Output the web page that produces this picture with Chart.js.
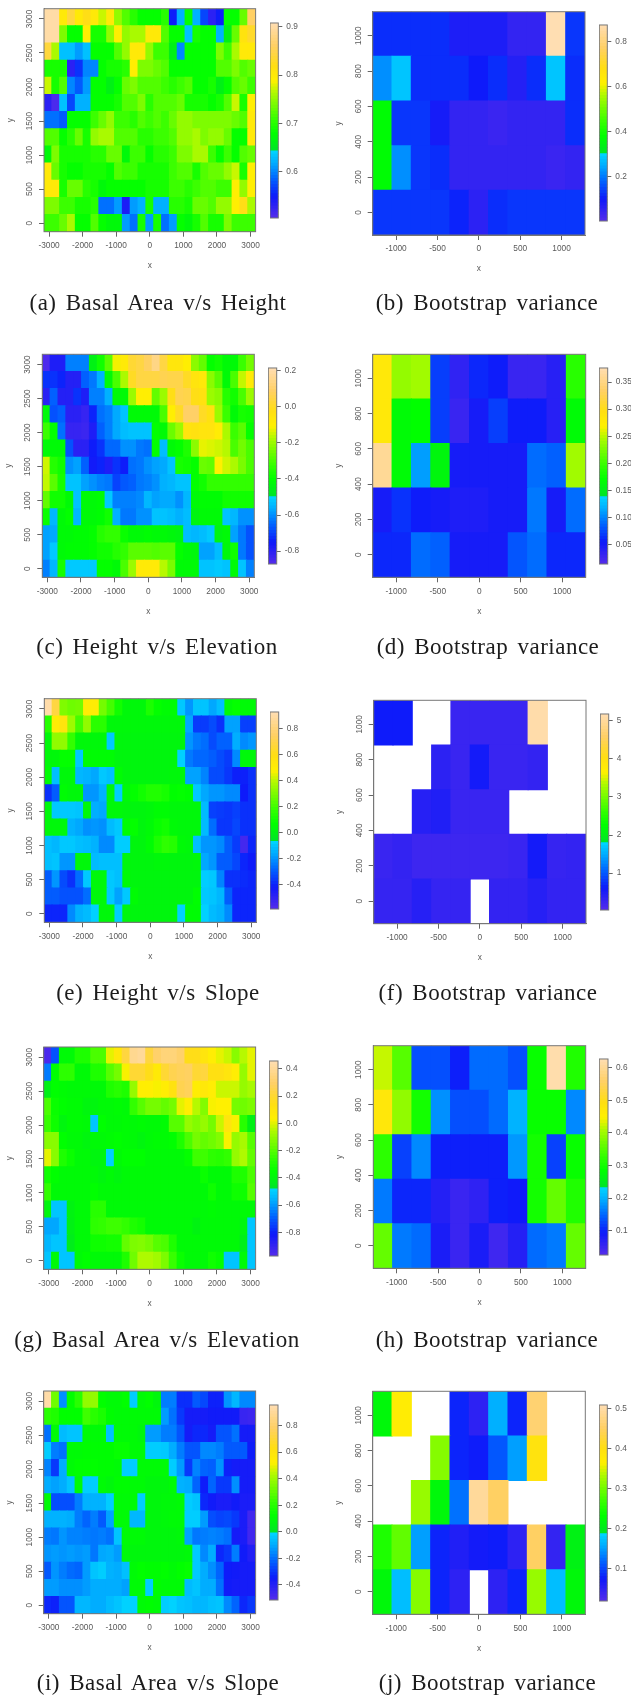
<!DOCTYPE html>
<html>
<head>
<meta charset="utf-8">
<title>Local correlation maps</title>
<script src="https://cdn.jsdelivr.net/npm/chart.js@4"></script>
<style>
    html, body { margin: 0; padding: 0; background: #fff; }
    #page { position: relative; width: 631px; height: 1696px; overflow: hidden; }
    canvas { position: absolute; filter: blur(0.6px); }
    .caption {
        position: absolute; width: 340px; text-align: center; line-height: 24px; height: 24px;
        font-family: 'Liberation Serif', serif; font-size: 23px; letter-spacing: 0.5px;
        color: #1c1c1c; word-spacing: 3px; filter: blur(0.3px); white-space: nowrap;
    }
</style>
</head>
<body>
<div id="page"></div>
<script>
// Axis ticks
var xTicksWide = [-3000, -2000, -1000, 0, 1000, 2000, 3000];
var yTicksWide = [0, 500, 1000, 1500, 2000, 2500, 3000];
var xTicksNarrow = [-1000, -500, 0, 500, 1000];
var yTicksNarrow = [0, 200, 400, 600, 800, 1000];

// Cell values, top row first. null = no data (white)
var aRows = [
    [.90,.90,.80,.84,.80,.82,.80,.77,.80,.75,.72,.70,.68,.68,.68,.70,.55,.62,.68,.62,.57,.53,.55,.68,.68,.73,.86],
    [.90,.90,.74,.68,.68,.79,.69,.69,.75,.79,.75,.76,.76,.80,.80,.72,.68,.68,.63,.69,.68,.68,.62,.66,.73,.81,.83],
    [.84,.76,.63,.63,.61,.63,.68,.68,.68,.72,.75,.80,.80,.75,.71,.71,.66,.60,.68,.68,.68,.68,.74,.71,.76,.80,.80],
    [.69,.69,.69,.53,.56,.60,.60,.68,.69,.69,.70,.79,.74,.74,.73,.72,.68,.68,.68,.68,.68,.68,.72,.72,.74,.72,.73],
    [.77,.69,.72,.60,.58,.61,.68,.68,.66,.68,.73,.74,.72,.72,.72,.71,.70,.71,.72,.68,.68,.69,.66,.68,.72,.73,.71],
    [.53,.51,.63,.57,.62,.62,.68,.68,.68,.69,.72,.72,.74,.70,.72,.72,.72,.73,.69,.69,.69,.68,.69,.72,.77,.69,.79],
    [.59,.59,.58,.68,.68,.68,.71,.73,.75,.71,.71,.70,.72,.71,.72,.71,.73,.75,.75,.74,.74,.74,.74,.74,.73,.72,.80],
    [.72,.72,.68,.70,.73,.69,.75,.76,.76,.72,.72,.72,.70,.70,.71,.71,.72,.75,.75,.76,.74,.75,.75,.73,.68,.68,.80],
    [.67,.74,.69,.69,.69,.69,.70,.70,.73,.73,.67,.71,.71,.68,.70,.70,.71,.74,.74,.76,.76,.71,.68,.71,.68,.72,.73],
    [.80,.73,.69,.68,.68,.69,.69,.69,.68,.72,.71,.71,.69,.69,.69,.69,.71,.72,.72,.69,.72,.73,.73,.75,.77,.69,.79],
    [.80,.80,.69,.73,.73,.70,.69,.67,.68,.68,.68,.68,.68,.69,.69,.69,.71,.71,.70,.71,.72,.72,.71,.71,.79,.75,.79],
    [.74,.74,.71,.71,.69,.69,.70,.59,.59,.61,.54,.61,.62,.69,.62,.62,.70,.70,.69,.73,.73,.72,.75,.75,.79,.82,.76],
    [.71,.71,.73,.76,.68,.68,.72,.68,.67,.67,.61,.59,.69,.61,.69,.59,.61,.68,.67,.69,.72,.69,.69,.74,.71,.71,.71]
];
var cRows = [
    [-.86,-.78,-.78,-.62,-.62,-.62,-.45,-.38,-.28,-.12,-.08,.02,.04,.08,.14,.04,-.06,-.06,-.10,-.22,-.27,-.40,-.38,-.42,-.42,-.32,-.25],
    [-.72,-.72,-.74,-.79,-.79,-.66,-.63,-.56,-.42,-.30,-.18,.00,.04,.04,.04,.06,.05,.05,.00,-.05,-.07,-.22,-.28,-.42,-.30,-.16,-.08],
    [-.80,-.66,-.79,-.79,-.72,-.78,-.62,-.62,-.56,-.42,-.42,-.20,-.10,-.10,-.27,-.20,-.02,.06,.05,-.02,-.04,-.20,-.22,-.35,-.38,-.30,-.20],
    [-.42,-.68,-.66,-.80,-.80,-.82,-.74,-.64,-.62,-.57,-.53,-.42,-.42,-.42,-.42,-.30,-.10,.00,.09,.09,.00,-.04,-.20,-.32,-.42,-.37,-.38],
    [-.32,-.40,-.64,-.82,-.82,-.83,-.78,-.66,-.62,-.57,-.54,-.53,-.53,-.53,-.40,-.42,-.26,-.20,-.05,-.04,-.05,-.05,-.09,-.18,-.32,-.28,-.40],
    [-.42,-.42,-.42,-.68,-.80,-.80,-.75,-.72,-.65,-.65,-.60,-.60,-.63,-.64,-.40,-.54,-.42,-.40,-.36,-.22,-.13,-.14,-.15,-.17,-.30,-.25,-.30],
    [-.15,-.35,-.38,-.60,-.58,-.66,-.76,-.74,-.78,-.72,-.75,-.64,-.63,-.60,-.58,-.57,-.53,-.37,-.38,-.40,-.26,-.27,-.11,-.15,-.18,-.24,-.30],
    [-.16,-.28,-.37,-.53,-.53,-.58,-.60,-.62,-.63,-.70,-.67,-.66,-.63,-.62,-.60,-.56,-.55,-.53,-.53,-.40,-.38,-.33,-.33,-.33,-.33,-.33,-.33],
    [-.27,-.38,-.38,-.42,-.53,-.42,-.42,-.41,-.52,-.62,-.62,-.62,-.61,-.55,-.58,-.57,-.57,-.60,-.55,-.42,-.41,-.41,-.41,-.38,-.38,-.38,-.38],
    [-.39,-.55,-.42,-.40,-.55,-.42,-.42,-.41,-.38,-.56,-.63,-.63,-.60,-.60,-.53,-.53,-.54,-.56,-.54,-.44,-.42,-.42,-.42,-.53,-.55,-.60,-.60],
    [-.58,-.57,-.42,-.42,-.41,-.41,-.40,-.35,-.33,-.33,-.39,-.42,-.42,-.41,-.42,-.42,-.43,-.44,-.54,-.55,-.54,-.52,-.44,-.42,-.58,-.63,-.68],
    [-.58,-.52,-.42,-.41,-.41,-.41,-.40,-.38,-.38,-.35,-.33,-.28,-.28,-.28,-.29,-.28,-.28,-.40,-.42,-.43,-.58,-.58,-.54,-.43,-.38,-.63,-.68],
    [-.62,-.55,-.37,-.52,-.52,-.52,-.52,-.40,-.40,-.42,-.30,-.20,-.08,-.08,-.08,-.17,-.24,-.42,-.42,-.42,-.53,-.53,-.52,-.53,-.42,-.53,-.62]
];
var eRows = [
    [.90,.68,.30,.27,.28,.50,.50,.28,.20,.10,.03,.03,.03,.12,.07,.05,.05,-.10,-.20,-.11,-.11,-.17,-.12,.04,.07,.04,.04],
    [.14,.50,.55,.35,.20,.33,.15,.15,.03,.03,.03,.03,.03,.03,.03,.03,.03,.03,-.17,-.36,-.36,-.33,-.38,-.18,-.18,-.35,-.35],
    [.03,.33,.33,.17,.03,.03,.03,.03,-.10,.02,.02,.02,.02,.02,.02,.02,.02,.02,-.20,-.25,-.27,-.33,-.29,-.29,-.16,-.22,-.20],
    [.03,.03,.07,.07,-.10,.05,.05,.05,.05,.02,.02,.02,.02,.02,.02,.02,.02,-.08,-.25,-.28,-.28,-.30,-.33,-.36,-.22,.03,.03],
    [.05,-.12,.03,.03,-.14,-.15,-.17,-.10,-.12,.05,.02,.02,.02,.02,.02,.02,.03,.03,-.18,-.18,-.23,-.33,-.33,-.37,-.41,-.41,-.38],
    [-.38,-.30,.05,.03,.03,-.20,-.20,-.15,.03,-.09,.04,.07,.10,.13,.13,.11,.06,.07,.06,-.10,-.17,-.20,-.20,-.22,-.22,-.42,-.38],
    [.03,-.10,-.10,-.10,-.11,.03,-.16,-.17,.03,.03,.02,.02,.02,.03,.05,.05,.03,.03,.03,.03,-.13,-.35,-.36,-.37,-.35,-.38,-.38],
    [.03,.03,.03,-.15,-.17,-.21,-.20,-.21,-.13,-.10,.05,.07,.02,.04,.08,.10,.04,.03,.03,.03,-.13,-.27,-.37,-.37,-.34,-.38,-.38],
    [-.12,-.14,-.10,-.10,-.12,-.13,-.15,-.22,-.22,-.09,-.09,.02,.02,.05,.12,.16,.14,.04,.03,-.12,-.20,-.20,-.22,-.30,-.36,-.55,-.40],
    [-.12,-.11,-.20,-.20,.03,.03,-.13,-.12,-.12,-.12,.02,.02,.02,.02,.03,.03,.02,.02,.02,.03,-.17,-.20,-.30,-.30,-.34,-.40,-.42],
    [-.30,-.20,-.33,-.38,-.27,-.10,.03,.03,-.10,-.12,.04,.02,.02,.02,.02,.02,.02,.02,.02,.02,-.09,-.10,-.23,-.38,-.38,-.39,-.40],
    [-.30,-.30,-.32,-.32,-.32,-.27,.03,.03,-.10,-.18,-.10,.05,.02,.02,.02,.02,.02,.02,.02,.06,-.10,-.11,-.14,-.30,-.40,-.40,-.40],
    [-.40,-.40,-.40,-.22,-.15,-.13,-.08,.03,.03,-.09,.02,.02,.02,.02,.02,.02,.02,-.08,.05,.05,-.08,-.13,-.15,-.22,-.40,-.40,-.40]
];
var gRows = [
    [-.95,-.72,-.38,-.38,-.30,-.30,-.22,-.22,.00,.08,.22,.38,.40,.22,.30,.33,.33,.30,.15,.15,.10,.05,.00,-.03,-.12,-.05,.00],
    [-.65,-.36,-.27,-.27,-.38,-.38,-.30,-.30,-.20,-.15,.02,.20,.20,.15,.07,.20,.25,.27,.28,.20,.22,.13,.13,.10,.05,-.10,.00],
    [-.42,-.36,-.37,-.38,-.38,-.38,-.38,-.38,-.30,-.28,-.30,-.10,.04,.04,.02,.05,.12,.25,.27,.05,.08,.05,-.03,-.03,-.03,-.10,-.07],
    [-.22,-.34,-.36,-.37,-.37,-.40,-.40,-.38,-.38,-.37,-.38,-.26,-.20,-.15,-.15,-.18,-.15,.00,.04,-.05,-.13,.02,.03,.03,-.15,-.16,-.14],
    [-.25,-.33,-.40,-.37,-.37,-.38,-.52,-.36,-.38,-.38,-.37,-.38,-.37,-.38,-.38,-.37,-.20,-.20,-.10,-.13,-.10,-.15,-.03,.10,.02,-.28,-.42],
    [-.12,-.12,-.36,-.38,-.38,-.40,-.38,-.38,-.37,-.36,-.37,-.38,-.40,-.38,-.37,-.37,-.36,-.30,-.22,-.15,-.18,-.16,-.13,.02,-.10,-.07,-.20],
    [.00,-.12,-.30,-.34,-.38,-.38,-.40,-.40,-.50,-.38,-.36,-.36,-.36,-.38,-.38,-.38,-.38,-.38,-.35,-.24,-.24,-.27,-.28,-.26,-.10,-.06,-.18],
    [-.33,-.36,-.38,-.38,-.38,-.38,-.38,-.40,-.38,-.40,-.38,-.38,-.38,-.38,-.38,-.38,-.38,-.38,-.38,-.38,-.34,-.38,-.38,-.38,-.30,-.30,-.22],
    [-.26,-.38,-.38,-.38,-.38,-.38,-.36,-.38,-.38,-.38,-.38,-.38,-.38,-.38,-.38,-.38,-.38,-.38,-.38,-.38,-.38,-.33,-.38,-.38,-.33,-.33,-.20],
    [-.40,-.52,-.52,-.41,-.38,-.38,-.28,-.28,-.38,-.38,-.38,-.38,-.38,-.38,-.38,-.38,-.38,-.38,-.38,-.38,-.38,-.37,-.38,-.38,-.38,-.38,-.38],
    [-.58,-.58,-.52,-.42,-.38,-.38,-.27,-.26,-.24,-.24,-.26,-.30,-.32,-.38,-.38,-.38,-.38,-.38,-.38,-.41,-.38,-.38,-.38,-.38,-.38,-.40,-.52],
    [-.55,-.52,-.52,-.44,-.38,-.38,-.33,-.33,-.32,-.32,-.18,-.14,-.13,-.15,-.20,-.22,-.30,-.38,-.38,-.38,-.38,-.38,-.38,-.38,-.38,-.43,-.52],
    [-.52,-.38,-.52,-.52,-.38,-.36,-.38,-.38,-.38,-.38,-.30,-.16,-.06,-.06,-.08,-.14,-.25,-.34,-.38,-.38,-.38,-.33,-.35,-.52,-.52,-.38,-.52]
];
var iRows = [
    [.93,.32,-.15,.12,.20,.38,.38,.12,.10,.10,.12,-.03,.10,.12,.08,-.18,-.18,-.32,-.32,-.24,-.27,-.34,-.34,-.14,-.08,-.16,-.16],
    [.20,.18,.12,.12,.12,.24,.20,.17,.11,.10,.10,.10,.10,.10,.10,-.13,-.20,-.30,-.37,-.37,-.37,-.36,-.36,-.36,-.36,-.45,-.46],
    [-.20,.10,-.07,-.05,-.05,.10,.10,.10,-.06,.10,.10,.10,.08,-.13,-.13,-.18,-.18,-.25,-.37,-.33,-.33,-.37,-.25,-.25,-.20,-.37,-.37],
    [-.03,-.18,-.20,.10,.10,.11,.11,.11,.11,.13,.13,.10,.10,-.03,-.03,-.04,-.10,-.18,-.25,-.25,-.16,-.16,-.18,-.24,-.24,-.24,-.35],
    [-.17,-.30,-.10,.10,.12,.12,.12,.11,.11,.10,-.03,-.03,.10,.10,.10,.10,-.03,-.13,-.30,-.17,-.22,-.23,-.14,-.34,-.37,-.37,-.37],
    [-.10,-.12,-.10,-.05,.10,-.03,-.03,.10,.08,.11,.11,.10,.10,.08,.08,.08,.10,-.09,-.10,-.22,-.35,-.22,-.30,-.30,-.15,-.37,-.37],
    [.10,-.26,-.26,-.26,-.18,-.09,-.09,-.09,-.03,.10,.10,.10,-.03,.08,.08,.09,.09,.10,-.03,-.05,-.33,-.36,-.38,-.38,-.36,-.38,-.38],
    [-.09,-.09,-.09,-.10,-.18,-.22,-.18,-.24,-.12,.10,.10,-.08,-.08,.08,.08,.09,.10,.10,-.03,-.03,-.13,-.26,-.28,-.27,-.30,-.38,-.47],
    [-.18,-.19,-.14,-.17,-.17,-.18,-.19,-.18,-.20,-.05,.10,.10,.10,.08,.08,.08,.08,.09,-.12,-.19,-.18,-.17,-.18,-.20,-.37,-.38,-.47],
    [-.14,-.13,-.14,-.13,-.14,-.13,-.19,-.11,-.10,-.13,.09,.08,.08,.08,.08,.08,.08,.08,.09,-.04,-.16,-.10,-.33,-.30,-.18,-.36,-.40],
    [-.24,-.14,-.18,-.21,-.22,-.13,-.05,-.03,-.09,-.10,-.06,.10,.12,.11,.11,.12,.10,.12,.13,-.04,-.10,-.15,-.22,-.35,-.36,-.37,-.37],
    [-.13,-.13,-.15,-.15,-.15,-.13,-.10,-.10,-.10,-.10,-.12,.10,.10,-.03,.11,.10,.10,.10,-.07,-.05,-.10,-.10,-.20,-.36,-.37,-.37,-.37],
    [-.33,-.34,-.25,-.25,-.08,-.08,-.10,-.10,-.07,-.05,-.02,-.02,.10,.11,.10,-.03,-.02,-.05,-.06,-.08,-.08,-.06,-.05,-.16,-.22,-.33,-.30]
];
var bRows = [
    [.12,.12,.12,.12,.08,.08,.08,.05,.05,.87,.13],
    [.22,.28,.12,.12,.12,.10,.12,.07,.12,.28,.12],
    [.37,.13,.13,.09,.05,.05,.04,.05,.05,.05,.12],
    [.37,.22,.13,.12,.05,.05,.05,.05,.05,.04,.05],
    [.13,.13,.13,.13,.11,.06,.12,.13,.13,.13,.13]
];
var dRows = [
    [.28,.235,.24,.07,.035,.06,.055,.03,.03,.04,.19],
    [.28,.165,.17,.07,.03,.05,.07,.055,.055,.04,.165],
    [.36,.165,.11,.16,.05,.05,.05,.05,.09,.085,.24],
    [.05,.065,.055,.05,.045,.045,.05,.05,.095,.05,.09],
    [.06,.06,.09,.085,.05,.05,.05,.08,.09,.06,.06]
];
var fRows = [
    [.6,.6,null,null,.25,.25,.25,.25,5.1,null,null],
    [null,null,null,.35,.25,.55,.25,.25,.3,null,null],
    [null,null,.4,.45,.25,.25,.25,null,null,null,null],
    [.25,.3,.22,.22,.22,.22,.22,.25,.55,.27,.3],
    [.28,.28,.4,.28,.28,null,.3,.3,.4,.3,.3]
];
var hRows = [
    [.42,.35,.13,.13,.095,.15,.15,.13,.29,.62,.31],
    [.47,.39,.30,.175,.13,.13,.15,.20,.29,.29,.17],
    [.32,.12,.17,.095,.095,.095,.095,.18,.30,.12,.29],
    [.16,.10,.10,.07,.05,.06,.095,.09,.30,.36,.31],
    [.36,.16,.15,.08,.05,.08,.045,.07,.15,.16,.36]
];
var jRows = [
    [.22,.37,null,null,.08,.05,.16,.08,.46,null,null],
    [null,null,null,.31,.08,.075,.11,.15,.39,null,null],
    [null,null,.32,.22,.125,.49,.45,null,null,null,null],
    [.25,.29,.15,.08,.06,.07,.075,.05,.45,.045,.21],
    [.22,.17,.31,.08,.05,null,.05,.08,.32,.17,.22]
];

// Legend ranges and ticks
var aRange = [.504, .908], aLegend = [.6, .7, .8, .9];
var bRange = [.005, .872], bLegend = [.2, .4, .6, .8];
var cRange = [-.872, .216], cLegend = [-.8, -.6, -.4, -.2, 0, .2];
var dRange = [.0145, .376], dLegend = [.05, .10, .15, .20, .25, .30, .35];
var eRange = [-.587, .925], eLegend = [-.4, -.2, 0, .2, .4, .6, .8];
var fRange = [.03, 5.18], fLegend = [1, 2, 3, 4, 5];
var gRange = [-.973, .457], gLegend = [-.8, -.6, -.4, -.2, 0, .2, .4];
var hRange = [.025, .627], hLegend = [.1, .2, .3, .4, .5, .6];
var iRange = [-.515, .956], iLegend = [-.4, -.2, 0, .2, .4, .6, .8];
var jRange = [.02, .509], jLegend = [.1, .2, .3, .4, .5];

var captions = [
    '(a) Basal Area v/s Height', '(b) Bootstrap variance',
    '(c) Height v/s Elevation', '(d) Bootstrap variance',
    '(e) Height v/s Slope', '(f) Bootstrap variance',
    '(g) Basal Area v/s Elevation', '(h) Bootstrap variance',
    '(i) Basal Area v/s Slope', '(j) Bootstrap variance'
];

// Colour ramp of the legends: position 0..1 -> rgb, with the hard cyan/green step
var ramp = [
    [0, 84, 44, 235], [.11, 14, 26, 250], [.2, 0, 100, 255], [.28, 0, 172, 255], [.344, 0, 215, 255],
    [.345, 0, 228, 40], [.43, 0, 255, 0], [.5, 50, 255, 0], [.64, 175, 250, 0], [.7, 255, 240, 0],
    [.78, 255, 222, 20], [.88, 255, 208, 100], [1, 255, 222, 180]
];

function rampColor(t) {
    t = Math.max(0, Math.min(1, t));
    for (var i = 1; i < ramp.length; i++) {
        if (t <= ramp[i][0]) {
            var a = ramp[i - 1], b = ramp[i], f = (t - a[0]) / (b[0] - a[0]);
            return 'rgb(' + [1, 2, 3].map(function (k) { return Math.round(a[k] + (b[k] - a[k]) * f); }).join(',') + ')';
        }
    }
    return 'rgb(255,222,180)';
}

var INK = '#5a5a5a';
var FONT = { family: "'Liberation Sans', Arial, sans-serif", size: 8.3 };

Chart.defaults.font.family = FONT.family;
Chart.defaults.font.size = FONT.size;
Chart.defaults.color = INK;

var frame = {
    id: 'frame',
    afterDatasetsDraw: function (chart) {
        var a = chart.chartArea, c = chart.ctx;
        c.save();
        c.strokeStyle = '#777';
        c.lineWidth = 1;
        c.strokeRect(a.left, a.top, a.right - a.left, a.bottom - a.top);
        c.restore();
    }
};

var page = document.getElementById('page');

function addCanvas(left, top, w, h) {
    var el = document.createElement('canvas');
    el.width = w; el.height = h;
    el.style.left = left + 'px'; el.style.top = top + 'px';
    el.style.width = w + 'px'; el.style.height = h + 'px';
    page.appendChild(el);
    return el;
}

function useTicks(list) {
    return function (scale) { scale.ticks = list.map(function (v) { return { value: v }; }); };
}

function plainTick(v) { return String(v); }

// box: plot area [left, right, top, bottom] in page pixels
function drawMap(rows, box, xLim, yLim, xTicks, yTicks, range) {
    var nr = rows.length, nc = rows[0].length;
    var cw = (xLim[1] - xLim[0]) / nc, ch = (yLim[1] - yLim[0]) / nr;
    var cells = [];
    rows.forEach(function (row, r) {
        row.forEach(function (v, c) {
            if (v === null) return;
            var y0 = yLim[0] + (nr - 1 - r) * ch;
            cells.push({ x: xLim[0] + (c + 0.5) * cw, y: [y0, y0 + ch], v: v });
        });
    });

    var left = Math.floor(box[0]) - 44, top = Math.floor(box[2]) - 6;
    var w = Math.ceil(box[1]) + 8 - left, h = Math.ceil(box[3]) + 42 - top;

    new Chart(addCanvas(left, top, w, h), {
        type: 'bar',
        data: {
            datasets: [{
                data: cells,
                backgroundColor: function (ctx) {
                    if (!ctx.raw) return 'transparent';
                    return rampColor((ctx.raw.v - range[0]) / (range[1] - range[0]));
                },
                borderWidth: 0,
                inflateAmount: 0.5,
                barPercentage: 1,
                categoryPercentage: 1
            }]
        },
        plugins: [frame],
        options: {
            responsive: false,
            animation: false,
            layout: {
                autoPadding: false,
                padding: { top: box[2] - top, right: left + w - box[1], left: 0, bottom: 0 }
            },
            plugins: { legend: { display: false }, tooltip: { enabled: false }, title: { display: false } },
            scales: {
                x: {
                    type: 'linear', min: xLim[0], max: xLim[1], offset: false,
                    afterBuildTicks: useTicks(xTicks),
                    afterFit: function (s) { s.height = top + h - box[3]; },
                    grid: { offset: false, drawOnChartArea: false, tickLength: 5, color: '#666' },
                    border: { color: '#777' },
                    ticks: { autoSkip: false, maxRotation: 0, padding: 4, callback: plainTick },
                    title: { display: true, text: 'x', padding: { top: 0, bottom: 3 }, color: INK }
                },
                y: {
                    type: 'linear', min: yLim[0], max: yLim[1],
                    afterBuildTicks: useTicks(yTicks),
                    afterFit: function (s) { s.width = box[0] - left; },
                    grid: { drawOnChartArea: false, tickLength: 5, color: '#666' },
                    border: { color: '#777' },
                    ticks: { autoSkip: false, minRotation: 90, maxRotation: 90, crossAlign: 'center', padding: 0, callback: plainTick },
                    title: { display: true, text: 'y', padding: { top: 6, bottom: 0 }, color: INK }
                }
            }
        }
    });
}

// box: legend bar [left, right, top, bottom]
function drawLegend(box, range, ticks, digits) {
    var steps = [];
    for (var i = 0; i < 64; i++) steps.push(i);
    var d = (range[1] - range[0]) / 64;
    var left = Math.floor(box[0]), top = Math.floor(box[2]) - 6;
    var w = Math.min(631, Math.ceil(box[1]) + 40) - left, h = Math.ceil(box[3]) + 6 - top;

    new Chart(addCanvas(left, top, w, h), {
        type: 'bar',
        data: {
            labels: ['z'],
            datasets: steps.map(function (k) {
                return {
                    data: [[range[0] + k * d, range[0] + (k + 1) * d]],
                    backgroundColor: rampColor((k + 0.5) / 64),
                    borderWidth: 0,
                    inflateAmount: 0.4,
                    grouped: false,
                    barPercentage: 1,
                    categoryPercentage: 1
                };
            })
        },
        plugins: [frame],
        options: {
            responsive: false,
            animation: false,
            layout: {
                autoPadding: false,
                padding: { top: box[2] - top, bottom: top + h - box[3], left: box[0] - left, right: 0 }
            },
            plugins: { legend: { display: false }, tooltip: { enabled: false } },
            scales: {
                x: { display: false },
                y: {
                    position: 'right', min: range[0], max: range[1],
                    afterBuildTicks: useTicks(ticks),
                    afterFit: function (s) { s.width = left + w - box[1]; },
                    grid: { drawOnChartArea: false, tickLength: 4, color: '#666' },
                    border: { display: false },
                    ticks: {
                        autoSkip: false, padding: 4,
                        callback: function (v) { return Number(v).toFixed(digits); }
                    }
                }
            }
        }
    });
}

function addCaption(text, cx, cy) {
    var el = document.createElement('div');
    el.className = 'caption';
    el.textContent = text;
    el.style.left = (cx - 170) + 'px';
    el.style.top = (cy - 12) + 'px';
    page.appendChild(el);
}

var wideX = [-3150, 3150], wideY = [-125, 3150];
var narrowX = [-1283, 1283], narrowY = [-128, 1136];

drawMap(aRows, [44, 256, 8.7, 231.7], wideX, wideY, xTicksWide, yTicksWide, aRange);
drawLegend([270, 278.3, 20, 221], aRange, aLegend, 1);
drawMap(bRows, [372.7, 585, 11.7, 235], narrowX, narrowY, xTicksNarrow, yTicksNarrow, bRange);
drawLegend([599.3, 607.3, 22.7, 224], bRange, bLegend, 1);

drawMap(cRows, [42.3, 254.3, 354.3, 577.3], wideX, wideY, xTicksWide, yTicksWide, cRange);
drawLegend([268.3, 276.7, 365.3, 566.7], cRange, cLegend, 1);
drawMap(dRows, [372.7, 585.7, 354.3, 577.3], narrowX, narrowY, xTicksNarrow, yTicksNarrow, dRange);
drawLegend([599.3, 607.7, 365.3, 566.7], dRange, dLegend, 2);

drawMap(eRows, [44.3, 256.3, 698.7, 922.3], wideX, wideY, xTicksWide, yTicksWide, eRange);
drawLegend([270, 278.7, 709.3, 911.7], eRange, eLegend, 1);
drawMap(fRows, [373.7, 586, 700.3, 923.7], narrowX, narrowY, xTicksNarrow, yTicksNarrow, fRange);
drawLegend([600.3, 608.7, 711.3, 912.7], fRange, fLegend, 0);

drawMap(gRows, [43.7, 255.7, 1047, 1269.3], wideX, wideY, xTicksWide, yTicksWide, gRange);
drawLegend([269.3, 278, 1058, 1259], gRange, gLegend, 1);
drawMap(hRows, [373.3, 585.7, 1045.7, 1268.3], narrowX, narrowY, xTicksNarrow, yTicksNarrow, hRange);
drawLegend([599.3, 608, 1056.3, 1257.7], hRange, hLegend, 1);

drawMap(iRows, [43.7, 255.7, 1391, 1613.7], wideX, wideY, xTicksWide, yTicksWide, iRange);
drawLegend([269.3, 278, 1402, 1603], iRange, iLegend, 1);
drawMap(jRows, [372.7, 585.3, 1391.3, 1614.3], narrowX, narrowY, xTicksNarrow, yTicksNarrow, jRange);
drawLegend([599.3, 607.3, 1402.3, 1603.3], jRange, jLegend, 1);

var captionSpots = [
    [158, 303], [487, 303], [157, 647], [488, 647], [158, 993],
    [488, 993], [157, 1340], [487, 1340], [158, 1683], [487.5, 1683]
];
captions.forEach(function (t, i) { addCaption(t, captionSpots[i][0], captionSpots[i][1]); });
</script>
</body>
</html>
